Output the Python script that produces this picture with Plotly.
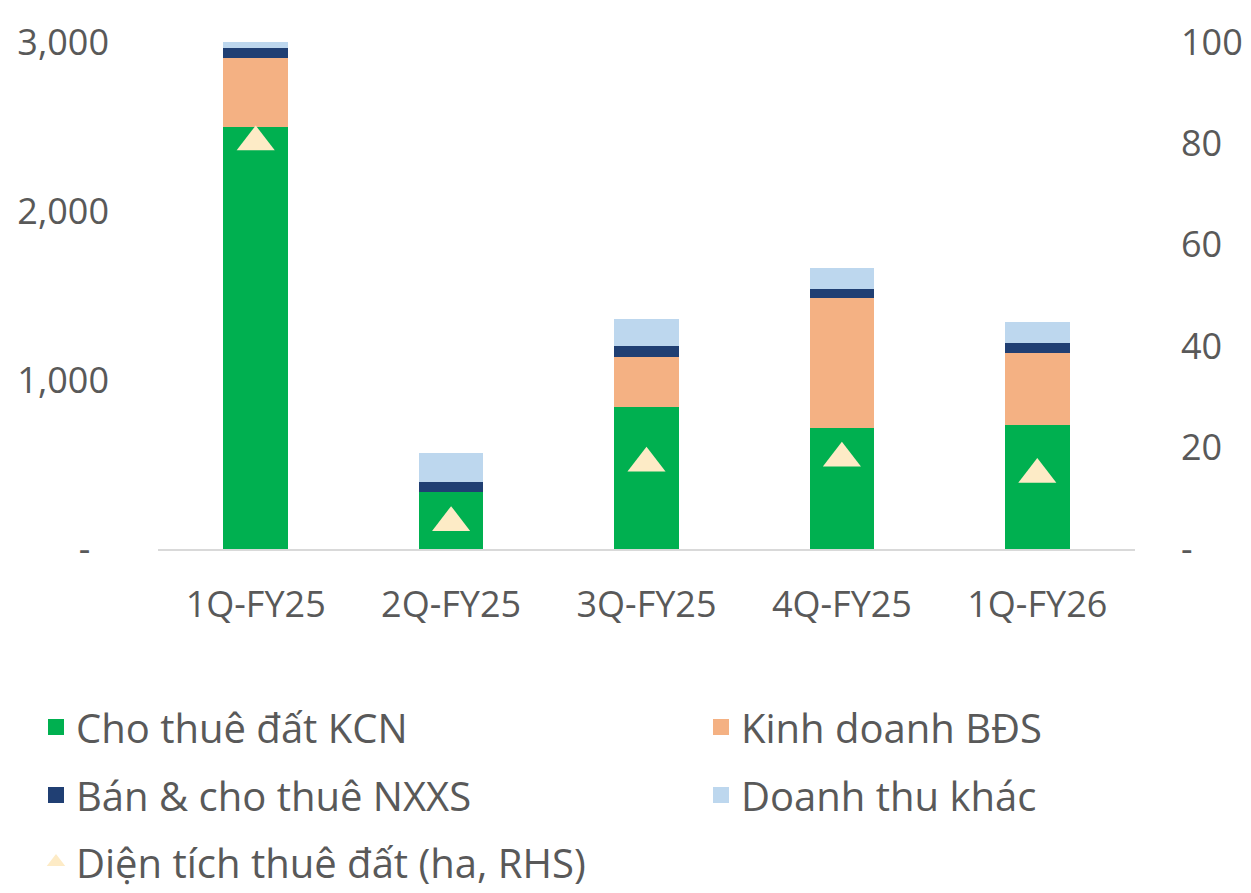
import plotly.graph_objects as go

categories = ["1Q-FY25", "2Q-FY25", "3Q-FY25", "4Q-FY25", "1Q-FY26"]
land_lease = [2500, 339, 842, 714, 734]        # Cho thuê đất KCN
real_estate = [407, 0, 296, 769, 428]          # Kinh doanh BĐS
factory = [56, 59, 65, 54, 59]                 # Bán & cho thuê NXXS
other = [55, 172, 156, 124, 124]               # Doanh thu khác
area_ha = [80.3, 5.2, 16.9, 17.9, 14.7]        # Diện tích thuê đất (ha, RHS)

left_ticks = [0, 1000, 2000, 3000]
left_labels = ["-\u00a0\u00a0", "1,000", "2,000", "3,000"]
right_ticks = [0, 20, 40, 60, 80, 100]
right_labels = ["-", "20", "40", "60", "80", "100"]

names = ["Cho thuê đất KCN", "Kinh doanh BĐS", "Bán & cho thuê NXXS", "Doanh thu khác"]
colors = ["#00B050", "#F4B183", "#203F73", "#BDD7EE"]
series = [land_lease, real_estate, factory, other]
legend_of = ["legend", "legend2", "legend3", "legend4"]

FONT = "Open Sans"
TXT = "#595959"
W, H = 1243, 885

fig = go.Figure()
for nm, col, vals in zip(names, colors, series):
    fig.add_trace(go.Bar(x=categories, y=vals, name=nm, marker=dict(color=col, line=dict(width=0)),
                         width=0.33, legendgroup=nm, showlegend=False))
# legend entries (square symbols)
for nm, col, lg in zip(names, colors, legend_of):
    fig.add_trace(go.Scatter(x=[None], y=[None], mode="markers", name=nm, legendgroup=nm,
                             marker=dict(symbol="square", size=16, color=col), legend=lg,
                             showlegend=True, hoverinfo="skip"))

fig.add_trace(go.Scatter(x=categories, y=area_ha, mode="markers", name="Diện tích thuê đất (ha, RHS)",
                         marker=dict(symbol="triangle-up", size=33, color="#FDEBC6", line=dict(width=0)),
                         yaxis="y2", legend="legend5"))

legend_common = dict(orientation="h", xref="container", yref="container",
                     xanchor="left", yanchor="middle",
                     font=dict(family=FONT, size=40, color=TXT), bgcolor="rgba(0,0,0,0)",
                     itemwidth=30)
col1_x = 28 / W
col2_x = 693 / W
row_y = [1 - 719 / H, 1 - 787 / H, 1 - 854 / H]

fig.update_layout(
    width=W, height=H,
    margin=dict(l=150, r=116, t=34, b=344, autoexpand=False),
    paper_bgcolor="white", plot_bgcolor="white",
    barmode="stack",
    font=dict(family=FONT, size=36, color=TXT),
    xaxis=dict(showline=True, linecolor="#D9D9D9", linewidth=2, showgrid=False, ticks="",
               automargin=False,
               tickfont=dict(family=FONT, size=36, color=TXT), ticklabelstandoff=23),
    yaxis=dict(range=[0, 3000], tickvals=left_ticks, ticktext=left_labels, showgrid=False,
               zeroline=False, showline=False, ticklabelstandoff=48, automargin=False,
               tickfont=dict(family=FONT, size=36, color=TXT)),
    yaxis2=dict(range=[0, 100], tickvals=right_ticks, ticktext=right_labels, overlaying="y",
                side="right", showgrid=False, zeroline=False, showline=False, ticklabelstandoff=45,
                automargin=False,
                tickfont=dict(family=FONT, size=36, color=TXT)),
    legend=dict(legend_common, x=col1_x, y=row_y[0]),
    legend2=dict(legend_common, x=col2_x, y=row_y[0]),
    legend3=dict(legend_common, x=col1_x, y=row_y[1]),
    legend4=dict(legend_common, x=col2_x, y=row_y[1]),
    legend5=dict(legend_common, x=col1_x, y=row_y[2]),
    showlegend=True,
)

fig.write_html("out.html")
